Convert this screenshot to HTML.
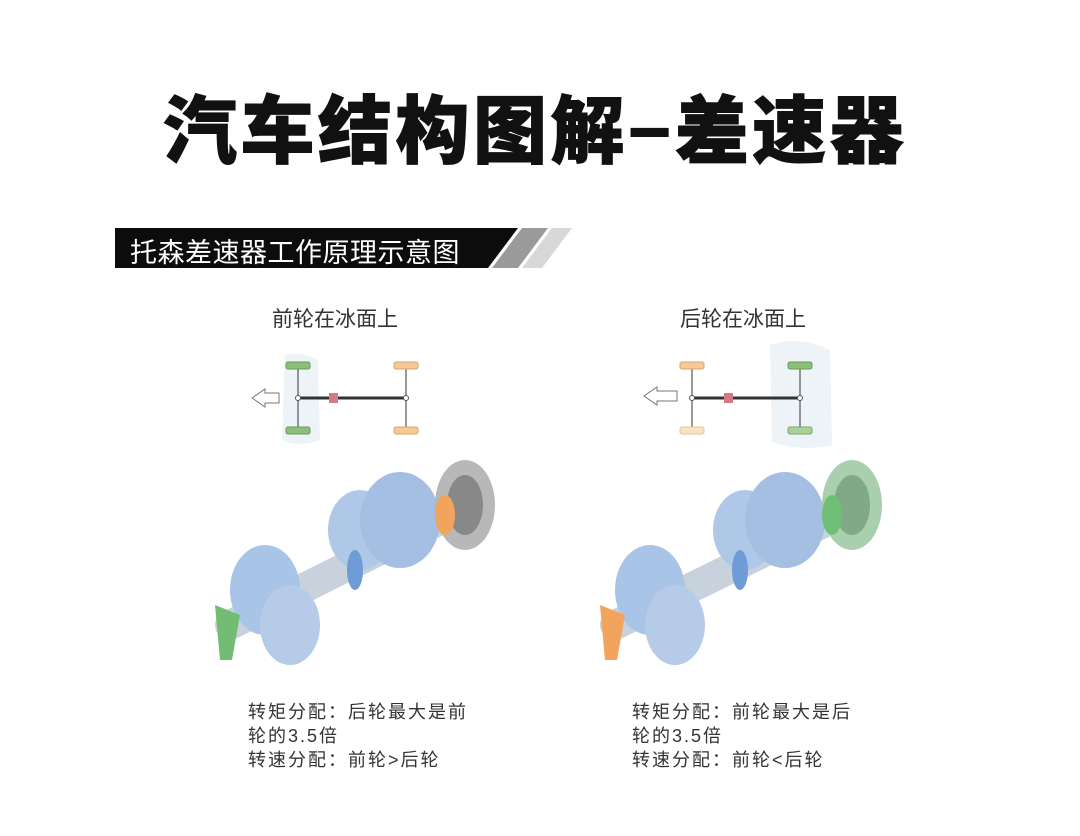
<!DOCTYPE html>
<html><head><meta charset="utf-8"><style>
body{margin:0;width:1080px;height:836px;background:#fff;overflow:hidden;position:relative;font-family:"Liberation Sans","Noto Sans CJK SC",sans-serif}
.t{position:absolute;white-space:nowrap}
</style></head><body>
<div class="t" style="left:163px;top:72px;font-size:74px;font-weight:900;color:#111;letter-spacing:3.5px;-webkit-text-stroke:1px #111">汽车结构图解−差速器</div>
<svg style="position:absolute;left:0;top:0" width="1080" height="836">
<polygon points="115,228 518,228 488,268 115,268" fill="#0c0c0c"/>
<polygon points="522,228 548,228 518,268 492,268" fill="#9a9a9a"/>
<polygon points="552,228 572,228 542,268 522,268" fill="#d8d8d8"/>
<path d="M285,355 Q300,350 318,360 L320,440 Q300,448 282,440 Z" fill="#eef3f8"/>
<path d="M770,345 Q800,335 830,350 L832,445 Q800,452 772,442 Z" fill="#eef3f8"/>
<g stroke="#555" stroke-width="1.2">
<line x1="298" y1="366" x2="298" y2="430"/><line x1="406" y1="366" x2="406" y2="430"/>
<line x1="692" y1="366" x2="692" y2="430"/><line x1="800" y1="366" x2="800" y2="430"/>
</g>
<line x1="298" y1="398" x2="406" y2="398" stroke="#333" stroke-width="3"/>
<line x1="692" y1="398" x2="800" y2="398" stroke="#333" stroke-width="3"/>
<rect x="286" y="362" width="24" height="7" rx="2" fill="#8bbf7a" stroke="#6a9a5a"/>
<rect x="286" y="427" width="24" height="7" rx="2" fill="#8bbf7a" stroke="#6a9a5a"/>
<rect x="394" y="362" width="24" height="7" rx="2" fill="#f6c996" stroke="#d9a36a"/>
<rect x="394" y="427" width="24" height="7" rx="2" fill="#f6c996" stroke="#d9a36a"/>
<rect x="680" y="362" width="24" height="7" rx="2" fill="#f6c996" stroke="#d9a36a"/>
<rect x="680" y="427" width="24" height="7" rx="2" fill="#f8e2c6" stroke="#e4c49a"/>
<rect x="788" y="362" width="24" height="7" rx="2" fill="#8bbf7a" stroke="#6a9a5a"/>
<rect x="788" y="427" width="24" height="7" rx="2" fill="#a9d29a" stroke="#7aa86a"/>
<rect x="329" y="393" width="9" height="10" fill="#d27a86"/>
<rect x="724" y="393" width="9" height="10" fill="#d27a86"/>
<g fill="#fff" stroke="#555"><circle cx="298" cy="398" r="2.5"/><circle cx="406" cy="398" r="2.5"/><circle cx="692" cy="398" r="2.5"/><circle cx="800" cy="398" r="2.5"/></g>
<polygon points="252,398 265,389 265,393 279,393 279,403 265,403 265,407" fill="#fff" stroke="#777"/>
<polygon points="644,396 657,387 657,391 677,391 677,401 657,401 657,405" fill="#fff" stroke="#777"/>
<g>
<line x1="230" y1="625" x2="470" y2="505" stroke="#c8d2dc" stroke-width="30" stroke-linecap="round"/>
<ellipse cx="265" cy="590" rx="35" ry="45" fill="#a8c4e6"/>
<ellipse cx="290" cy="625" rx="30" ry="40" fill="#b5cbe8"/>
<ellipse cx="360" cy="530" rx="32" ry="40" fill="#b0c8e8"/>
<ellipse cx="400" cy="520" rx="40" ry="48" fill="#a4bfe2"/>
<ellipse cx="355" cy="570" rx="8" ry="20" fill="#6f9bd6"/>
<ellipse cx="465" cy="505" rx="30" ry="45" fill="#b8b8b8"/>
<ellipse cx="465" cy="505" rx="18" ry="30" fill="#888"/>
<ellipse cx="445" cy="515" rx="10" ry="20" fill="#f2a35c"/>
<path d="M215,605 L240,615 L232,660 L220,660 Z" fill="#72bd73"/>
</g>
<g>
<line x1="615" y1="625" x2="860" y2="505" stroke="#c8d2dc" stroke-width="30" stroke-linecap="round"/>
<ellipse cx="650" cy="590" rx="35" ry="45" fill="#a8c4e6"/>
<ellipse cx="675" cy="625" rx="30" ry="40" fill="#b5cbe8"/>
<ellipse cx="745" cy="530" rx="32" ry="40" fill="#b0c8e8"/>
<ellipse cx="785" cy="520" rx="40" ry="48" fill="#a4bfe2"/>
<ellipse cx="740" cy="570" rx="8" ry="20" fill="#6f9bd6"/>
<ellipse cx="852" cy="505" rx="30" ry="45" fill="#a9cfae"/>
<ellipse cx="852" cy="505" rx="18" ry="30" fill="#7faa85"/>
<ellipse cx="832" cy="515" rx="10" ry="20" fill="#6fbf77"/>
<path d="M600,605 L625,615 L617,660 L605,660 Z" fill="#f2a35c"/>
</g>
</svg>
<div class="t" style="left:130px;top:231px;font-size:27px;color:#fff;letter-spacing:0.5px">托森差速器工作原理示意图</div>
<div class="t" style="left:272px;top:303px;font-size:21px;color:#333">前轮在冰面上</div>
<div class="t" style="left:680px;top:303px;font-size:21px;color:#333">后轮在冰面上</div>
<div class="t" style="left:248px;top:700px;font-size:18px;color:#333;line-height:24px;letter-spacing:2px">转矩分配：后轮最大是前<br>轮的3.5倍<br>转速分配：前轮&gt;后轮</div>
<div class="t" style="left:632px;top:700px;font-size:18px;color:#333;line-height:24px;letter-spacing:2px">转矩分配：前轮最大是后<br>轮的3.5倍<br>转速分配：前轮&lt;后轮</div>
</body></html>
